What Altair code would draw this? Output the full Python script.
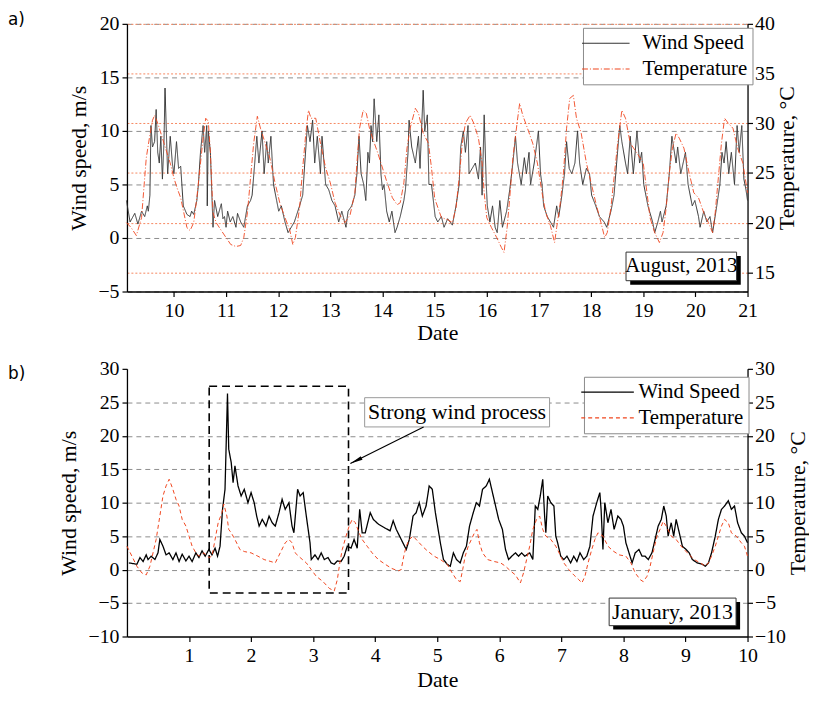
import altair as alt
import pandas as pd

SERIF = "Liberation Serif"
RED = "#f0461e"
SERIES = ["Wind Speed", "Temperature"]
W, H = 626, 270

# ---- Panel a: August 2013 (day, value) ----
a_wind = [(9.09,3.5),(9.16,1.5),(9.25,2.3),(9.31,1.3),(9.38,2.5),(9.44,2.0),(9.49,3.0),(9.51,2.5),(9.54,4.0),(9.56,10.5),
(9.59,8.5),(9.63,9.0),(9.66,12.0),(9.69,8.0),(9.72,7.0),(9.75,9.5),(9.78,5.5),(9.81,9.0),(9.83,14.0),(9.88,6.0),
(9.93,9.5),(9.97,7.0),(10.0,6.0),(10.05,9.0),(10.09,6.5),(10.13,6.7),(10.18,3.0),(10.25,2.2),(10.31,2.0),(10.34,2.5),
(10.38,2.2),(10.44,3.5),(10.47,5.0),(10.51,8.0),(10.56,10.5),(10.59,8.0),(10.63,10.5),(10.64,3.0),(10.66,10.0),(10.70,8.0),
(10.75,1.0),(10.78,3.5),(10.84,2.0),(10.91,3.2),(10.94,1.8),(10.97,2.0),(11.0,1.0),(11.03,2.5),(11.08,1.5),(11.13,2.0),
(11.19,1.0),(11.22,2.3),(11.28,1.5),(11.34,1.0),(11.41,3.0),(11.47,3.5),(11.5,4.0),(11.55,7.0),(11.59,9.5),(11.63,7.0),
(11.69,10.0),(11.73,6.0),(11.78,9.0),(11.81,7.0),(11.86,9.5),(11.91,5.0),(11.97,3.5),(12.01,2.5),(12.06,3.0),(12.13,1.5),
(12.19,0.5),(12.25,1.0),(12.31,1.5),(12.41,3.0),(12.47,4.0),(12.51,7.0),(12.56,10.5),(12.61,9.0),(12.66,11.0),(12.7,7.0),
(12.75,9.5),(12.81,6.0),(12.84,9.5),(12.91,5.0),(12.97,4.5),(13.03,3.5),(13.09,3.0),(13.16,1.5),(13.22,2.5),(13.3,1.0),
(13.34,2.5),(13.41,3.0),(13.47,4.0),(13.51,6.0),(13.55,9.5),(13.59,6.0),(13.64,5.0),(13.68,3.5),(13.72,8.0),(13.75,7.0),
(13.78,10.5),(13.81,9.0),(13.84,13.0),(13.89,9.0),(13.93,11.5),(13.97,6.0),(14.0,4.5),(14.03,5.0),(14.08,2.5),(14.13,1.5),
(14.18,2.5),(14.24,0.5),(14.28,1.0),(14.34,2.0),(14.41,3.5),(14.44,4.5),(14.49,8.0),(14.51,11.0),(14.56,8.5),(14.63,7.0),
(14.69,9.5),(14.72,6.5),(14.78,13.8),(14.81,10.0),(14.86,11.5),(14.89,5.0),(14.94,5.0),(15.01,2.0),(15.06,1.5),(15.13,2.0),
(15.18,1.0),(15.25,1.8),(15.34,1.2),(15.41,3.0),(15.47,5.0),(15.5,8.5),(15.55,10.0),(15.59,8.0),(15.64,10.5),(15.66,6.0),
(15.72,6.5),(15.78,7.0),(15.84,5.5),(15.88,8.5),(15.91,4.0),(15.95,11.5),(15.99,5.0),(16.01,3.0),(16.06,1.5),(16.11,3.0),
(16.16,1.0),(16.2,0.5),(16.25,3.5),(16.3,1.0),(16.38,2.5),(16.44,4.5),(16.5,7.0),(16.55,9.5),(16.59,7.0),(16.66,5.0),
(16.72,7.5),(16.76,6.0),(16.81,8.0),(16.84,5.0),(16.91,7.0),(16.99,10.0),(17.03,6.0),(17.06,5.0),(17.09,3.0),(17.16,2.0),
(17.22,1.5),(17.28,1.0),(17.34,3.0),(17.38,2.0),(17.44,4.0),(17.49,6.0),(17.53,9.0),(17.58,6.5),(17.63,6.0),(17.69,7.0),
(17.74,10.0),(17.78,7.0),(17.84,5.0),(17.91,6.5),(17.97,6.0),(18.01,4.0),(18.09,3.0),(18.16,2.0),(18.25,1.5),(18.3,1.0),
(18.38,2.5),(18.44,4.0),(18.49,7.0),(18.55,10.5),(18.59,9.0),(18.66,7.0),(18.7,6.0),(18.75,9.5),(18.81,6.0),(18.88,10.0),
(18.93,7.0),(18.97,8.0),(19.01,5.0),(19.09,3.0),(19.18,1.5),(19.22,0.5),(19.28,1.5),(19.33,2.5),(19.36,1.5),(19.44,3.0),
(19.5,6.0),(19.55,9.5),(19.63,7.0),(19.66,8.5),(19.72,6.0),(19.81,8.0),(19.86,5.0),(19.94,3.0),(19.99,3.5),(20.06,2.0),
(20.09,1.0),(20.16,2.5),(20.22,1.5),(20.28,2.0),(20.33,0.5),(20.41,3.0),(20.47,5.0),(20.51,8.0),(20.55,7.0),(20.59,9.0),
(20.64,6.0),(20.69,8.0),(20.75,5.0),(20.8,10.5),(20.84,8.0),(20.89,10.5),(20.93,5.5),(20.97,4.5),(21.0,3.5)]

a_temp = [(9.09,20.0),(9.18,19.5),(9.28,18.7),(9.38,20.5),(9.41,22.5),(9.47,26.5),(9.53,28.5),(9.59,30.3),(9.63,30.8),(9.69,30.0),
(9.81,28.0),(9.94,25.8),(10.0,24.5),(10.06,23.5),(10.13,22.5),(10.19,21.0),(10.25,19.5),(10.31,19.2),(10.38,20.0),(10.44,22.5),
(10.5,25.5),(10.56,28.5),(10.61,30.5),(10.66,30.2),(10.7,27.0),(10.75,21.0),(10.81,20.0),(10.91,19.2),(11.0,18.5),(11.09,17.8),
(11.19,17.6),(11.28,17.7),(11.34,18.5),(11.41,21.0),(11.47,24.5),(11.53,28.0),(11.6,30.7),(11.66,29.5),(11.75,28.0),(11.84,26.5),
(11.94,24.0),(12.03,22.0),(12.13,20.5),(12.22,19.3),(12.28,17.8),(12.33,18.5),(12.41,21.5),(12.47,25.5),(12.53,29.0),(12.58,31.3),
(12.63,30.5),(12.72,30.5),(12.81,28.0),(12.91,25.5),(13.0,24.0),(13.09,22.0),(13.19,20.7),(13.28,20.0),(13.38,20.8),(13.47,23.0),
(13.51,26.0),(13.56,29.5),(13.63,31.3),(13.69,31.0),(13.75,29.5),(13.81,28.5),(13.91,27.0),(14.0,25.5),(14.09,24.0),(14.19,22.5),
(14.28,21.8),(14.34,22.0),(14.41,24.0),(14.47,27.5),(14.53,29.5),(14.63,31.5),(14.69,31.0),(14.78,29.0),(14.88,28.0),(14.94,25.5),
(15.0,22.5),(15.03,22.0),(15.13,20.5),(15.25,20.3),(15.34,20.0),(15.41,21.5),(15.47,24.5),(15.53,28.0),(15.59,30.0),(15.68,30.8),
(15.75,30.0),(15.84,28.5),(15.91,26.0),(15.95,23.0),(16.0,20.5),(16.09,19.5),(16.19,18.5),(16.28,17.5),(16.33,17.0),(16.39,19.5),
(16.44,22.5),(16.5,26.5),(16.58,30.0),(16.63,32.0),(16.69,30.8),(16.78,29.5),(16.88,28.0),(16.97,26.0),(17.06,23.0),(17.13,21.0),
(17.22,19.7),(17.3,18.0),(17.34,19.5),(17.41,22.0),(17.47,25.0),(17.53,29.5),(17.59,32.5),(17.66,32.8),(17.72,30.5),(17.81,29.0),
(17.91,26.0),(18.0,24.0),(18.09,22.0),(18.19,20.0),(18.26,18.5),(18.31,19.0),(18.38,21.5),(18.44,24.5),(18.51,28.0),(18.59,31.3),
(18.66,30.5),(18.75,28.0),(18.88,27.0),(19.0,26.0),(19.06,23.5),(19.13,20.5),(19.22,19.0),(19.31,18.0),(19.38,19.0),(19.44,21.5),
(19.5,25.0),(19.56,27.5),(19.63,29.0),(19.69,28.5),(19.78,27.5),(19.88,25.0),(19.97,23.0),(20.06,22.5),(20.16,21.0),(20.25,20.0),
(20.33,19.0),(20.38,21.0),(20.44,24.5),(20.5,28.0),(20.56,30.5),(20.63,30.0),(20.72,29.5),(20.81,27.5),(20.91,26.0),(21.0,23.0)]

# ---- Panel b: January 2013 (day, value) ----
b_wind = [(0.03,1.0),(0.16,0.8),(0.21,1.8),(0.26,1.2),(0.31,2.2),(0.34,1.5),(0.39,2.0),(0.45,1.5),(0.5,2.5),(0.53,4.5),
(0.58,3.5),(0.63,2.2),(0.68,2.5),(0.74,1.5),(0.79,2.5),(0.84,1.2),(0.89,2.3),(0.95,1.3),(1.0,2.0),(1.05,1.2),
(1.11,2.5),(1.16,1.8),(1.21,2.8),(1.26,2.0),(1.32,3.0),(1.37,2.2),(1.42,3.2),(1.46,2.0),(1.5,3.5),(1.54,9.0),
(1.58,12.0),(1.62,26.3),(1.64,18.0),(1.68,16.0),(1.71,13.0),(1.74,15.5),(1.79,12.5),(1.84,11.0),(1.89,12.0),(1.95,10.0),
(2.0,11.5),(2.05,10.0),(2.09,8.0),(2.13,6.5),(2.18,7.5),(2.24,6.5),(2.29,8.0),(2.34,7.0),(2.39,6.5),(2.45,8.5),
(2.5,10.5),(2.55,9.0),(2.61,10.0),(2.66,6.5),(2.69,5.5),(2.75,12.0),(2.79,11.0),(2.84,11.5),(2.89,8.0),(2.95,4.0),
(2.97,1.5),(3.03,2.2),(3.08,1.5),(3.13,2.5),(3.18,1.5),(3.24,1.8),(3.29,1.0),(3.34,0.8),(3.39,1.3),(3.45,1.2),
(3.5,2.0),(3.55,3.5),(3.61,3.2),(3.66,4.5),(3.71,3.2),(3.75,9.0),(3.79,5.5),(3.84,5.5),(3.92,8.5),(3.97,7.5),
(4.05,6.8),(4.16,6.2),(4.24,5.8),(4.29,7.3),(4.34,6.0),(4.42,4.5),(4.5,3.0),(4.55,4.5),(4.61,8.0),(4.66,8.5),
(4.71,10.0),(4.76,8.0),(4.82,9.5),(4.87,12.5),(4.92,12.0),(4.97,8.5),(5.05,4.0),(5.1,1.5),(5.16,0.8),(5.21,0.5),
(5.26,2.5),(5.31,1.5),(5.37,1.0),(5.42,2.5),(5.47,3.5),(5.52,6.5),(5.58,8.5),(5.63,10.0),(5.68,9.5),(5.73,12.0),
(5.79,12.5),(5.84,13.5),(5.89,11.5),(5.94,9.5),(5.99,7.5),(6.05,6.0),(6.1,3.0),(6.15,1.5),(6.2,2.0),(6.26,2.5),
(6.31,2.0),(6.36,2.5),(6.41,2.0),(6.49,2.5),(6.54,1.5),(6.58,9.5),(6.62,9.0),(6.66,11.0),(6.7,13.5),(6.73,8.0),
(6.75,5.5),(6.78,11.0),(6.83,10.0),(6.88,9.5),(6.91,5.0),(6.94,4.0),(6.99,2.0),(7.04,1.5),(7.09,2.0),(7.15,1.0),
(7.2,2.0),(7.25,1.2),(7.3,2.5),(7.36,1.5),(7.41,2.0),(7.46,3.5),(7.51,8.0),(7.57,10.0),(7.62,11.5),(7.64,9.0),
(7.67,3.0),(7.7,10.0),(7.75,7.0),(7.8,9.0),(7.85,6.0),(7.91,8.0),(7.96,7.5),(8.0,6.5),(8.04,4.0),(8.09,2.5),
(8.14,1.0),(8.19,2.5),(8.25,3.0),(8.3,2.0),(8.35,2.0),(8.4,1.5),(8.46,2.5),(8.51,4.5),(8.56,6.5),(8.61,7.5),
(8.65,9.5),(8.69,8.0),(8.72,5.0),(8.77,7.0),(8.81,5.0),(8.85,7.5),(8.9,5.5),(8.95,3.5),(9.01,3.0),(9.06,2.5),
(9.11,1.5),(9.19,1.0),(9.27,0.8),(9.32,0.5),(9.37,1.0),(9.42,2.5),(9.48,5.0),(9.53,7.5),(9.58,9.0),(9.63,9.5),
(9.69,10.3),(9.74,9.0),(9.79,9.5),(9.84,7.0),(9.9,5.5),(9.95,5.0),(10.0,4.0)]

b_temp = [(0.0,3.5),(0.08,2.0),(0.16,0.5),(0.24,-0.5),(0.31,-0.8),(0.37,0.5),(0.42,2.5),(0.47,4.5),(0.53,8.0),(0.58,11.0),
(0.63,12.5),(0.68,13.5),(0.74,12.0),(0.79,10.5),(0.84,9.5),(0.89,7.5),(0.95,6.5),(1.0,5.0),(1.05,3.5),(1.11,2.5),
(1.16,2.0),(1.24,2.5),(1.32,1.8),(1.37,2.0),(1.42,4.5),(1.47,7.0),(1.53,8.5),(1.56,9.8),(1.61,8.0),(1.64,6.0),
(1.68,5.5),(1.74,4.5),(1.82,3.0),(1.89,2.7),(2.0,2.5),(2.11,2.0),(2.21,1.5),(2.32,1.2),(2.39,1.0),(2.47,2.5),
(2.55,4.0),(2.61,4.5),(2.66,4.0),(2.71,2.5),(2.79,1.8),(2.89,1.0),(2.97,0.0),(3.05,-1.0),(3.16,-1.8),(3.26,-2.8),
(3.34,-3.2),(3.39,-1.5),(3.43,1.0),(3.47,3.0),(3.53,5.0),(3.58,6.5),(3.63,7.5),(3.68,7.0),(3.74,5.5),(3.79,4.5),
(3.87,3.5),(3.95,2.5),(4.05,1.5),(4.16,0.8),(4.26,0.2),(4.37,-0.2),(4.42,0.0),(4.46,2.0),(4.5,3.5),(4.55,4.5),
(4.61,5.0),(4.68,4.3),(4.76,3.5),(4.84,2.8),(4.95,2.0),(5.05,1.5),(5.16,0.8),(5.24,-0.5),(5.31,-1.5),(5.37,-1.8),
(5.41,0.0),(5.45,2.0),(5.5,3.5),(5.55,4.5),(5.6,5.5),(5.64,6.0),(5.68,4.0),(5.73,2.5),(5.81,1.5),(5.92,1.2),
(6.02,1.0),(6.1,0.5),(6.18,-0.2),(6.26,-0.8),(6.34,-2.0),(6.39,-0.5),(6.44,1.5),(6.49,3.5),(6.54,6.0),(6.6,7.5),
(6.65,8.0),(6.7,6.0),(6.75,5.0),(6.83,4.5),(6.91,3.5),(6.99,2.0),(7.04,1.0),(7.12,0.0),(7.2,-0.8),(7.28,-1.5),
(7.33,-2.0),(7.38,-1.0),(7.43,1.0),(7.49,3.0),(7.54,4.5),(7.59,5.5),(7.67,5.0),(7.75,3.5),(7.83,2.8),(7.93,2.2),
(8.04,2.0),(8.12,1.0),(8.19,-0.5),(8.27,-1.5),(8.32,-1.8),(8.38,-1.0),(8.43,0.5),(8.49,3.0),(8.54,5.0),(8.59,6.0),
(8.64,7.2),(8.69,6.5),(8.77,5.0),(8.85,4.5),(8.93,3.5),(9.03,2.5),(9.14,1.5),(9.24,1.0),(9.32,0.5),(9.37,1.0),
(9.42,2.0),(9.48,3.5),(9.53,5.0),(9.58,6.5),(9.63,7.5),(9.69,7.0),(9.74,5.5),(9.82,5.0),(9.9,4.0),(9.95,3.5),(10.0,2.0)]

# tick values
a_days = list(range(10, 22))
a_wind_ticks = [-5, 0, 5, 10, 15, 20]
a_temp_ticks = [15, 20, 25, 30, 35, 40]
b_days = list(range(1, 11))
b_ticks = [-10, -5, 0, 5, 10, 15, 20, 25, 30]

# annotation boxes (data coordinates)
aug_box = pd.DataFrame({"x0": [18.67], "x1": [20.79], "y0": [-1.32], "y1": [-3.99],
                        "sx0": [18.75], "sx1": [20.87], "sy0": [-1.69], "sy1": [-4.36],
                        "tx": [19.73], "ty": [-2.65], "label": ["August, 2013"]})
jan_box = pd.DataFrame({"x0": [7.77], "x1": [9.815], "y0": [-4.26], "y1": [-8.38],
                        "sx0": [7.835], "sx1": [9.88], "sy0": [-4.85], "sy1": [-8.97],
                        "tx": [8.79], "ty": [-6.3], "label": ["January, 2013"]})
strong_rect = pd.DataFrame({"x0": [1.325], "x1": [3.57], "y0": [27.4], "y1": [-3.5]})
strong_label = pd.DataFrame({"x0": [3.83], "x1": [6.81], "y0": [25.69], "y1": [21.32],
                             "tx": [5.32], "ty": [23.5], "label": ["Strong wind process"]})
arrow = pd.DataFrame({"x0": [4.78], "y0": [21.32], "x1": [3.6], "y1": [15.85]})


def frame(pairs, name):
    return pd.DataFrame({"day": [p[0] for p in pairs], "value": [p[1] for p in pairs], "series": name})


def legend(lx, ly, size, offset):
    return alt.Legend(title=None, orient="none", legendX=lx, legendY=ly,
                      symbolType="M-5.5,0H10.5", symbolSize=size, symbolStrokeWidth=1.1,
                      labelOffset=offset, padding=5, rowPadding=4,
                      strokeColor="#8a8a8a", fillColor="white",
                      labelFont=SERIF, labelFontSize=21, labelColor="black", labelLimit=0)


def box_layers(df, xs, ys, xax, yax, fs):
    shadow = alt.Chart(df).mark_rect(color="black").encode(
        x=alt.X("sx0:Q", scale=xs, axis=xax), x2="sx1:Q",
        y=alt.Y("sy0:Q", scale=ys, axis=yax), y2="sy1:Q")
    box = alt.Chart(df).mark_rect(fill="white", stroke="#333", strokeWidth=1).encode(
        x=alt.X("x0:Q", scale=xs, axis=xax), x2="x1:Q",
        y=alt.Y("y0:Q", scale=ys, axis=yax), y2="y1:Q")
    txt = alt.Chart(df).mark_text(font=SERIF, fontSize=fs, color="black").encode(
        x=alt.X("tx:Q", scale=xs, axis=xax), y=alt.Y("ty:Q", scale=ys, axis=yax), text="label:N")
    return [shadow, box, txt]


def tag(df, label, yoff):
    return alt.Chart(df).mark_text(text=label, font="DejaVu Sans", fontSize=17, align="left",
                                   baseline="middle", color="black").encode(
        x=alt.value(-120), y=alt.value(yoff))


# ---------------- panel a ----------------
xa = alt.Scale(domain=[9.1, 21], nice=False, zero=False)
ya = alt.Scale(domain=[-5, 20], nice=False, zero=False)
ta = alt.Scale(domain=[13.07, 40], nice=False, zero=False)
xax_a = alt.Axis(values=a_days, title="Date", grid=False, labelFlush=False, labelPadding=4, titlePadding=2)
yax_a = alt.Axis(values=a_wind_ticks, title="Wind speed, m/s", grid=True, labelFlush=False,
                 gridColor="#8c8c8c", gridDash=[5, 4], titlePadding=8)
tax_a = alt.Axis(orient="right", values=a_temp_ticks, title="Temperature, °C", titleAngle=270,
                 titleBaseline="top", grid=True, gridColor="#f6875f", gridDash=[2, 2], labelFlush=False,
                 titlePadding=2, labelPadding=2)
leg_a = legend(W - 166, 4, 36, 34)
col_a = alt.Color("series:N", scale=alt.Scale(domain=SERIES, range=["#333333", RED]), legend=leg_a)
dash_a = alt.StrokeDash("series:N", scale=alt.Scale(domain=SERIES, range=[[1, 0], [6, 2, 1, 2]]), legend=leg_a)

wind_a = alt.Chart(frame(a_wind, SERIES[0])).mark_line(strokeWidth=1.0).encode(
    x=alt.X("day:Q", scale=xa, axis=xax_a),
    y=alt.Y("value:Q", scale=ya, axis=yax_a),
    color=col_a, strokeDash=dash_a)
temp_a = alt.Chart(frame(a_temp, SERIES[1])).mark_line(strokeWidth=0.9).encode(
    x=alt.X("day:Q", scale=xa, axis=xax_a),
    y=alt.Y("value:Q", scale=ta, axis=tax_a),
    color=col_a, strokeDash=dash_a)
left_a = alt.layer(wind_a, *box_layers(aug_box, xa, ya, xax_a, yax_a, 21), tag(aug_box, "a)", -4))
panel_a = alt.layer(left_a, temp_a).resolve_scale(y="independent").properties(width=W, height=H)

# ---------------- panel b ----------------
xb = alt.Scale(domain=[0, 10], nice=False, zero=False)
yb = alt.Scale(domain=[-10, 30], nice=False, zero=False)
xax_b = alt.Axis(values=b_days, title="Date", grid=False, labelFlush=False, labelPadding=4, titlePadding=4)
yax_b = alt.Axis(values=b_ticks, title="Wind speed, m/s", grid=True, gridColor="#8c8c8c",
                 gridDash=[5, 4], titlePadding=8, labelFlush=False,
                 gridOpacity={"condition": {"test": "datum.value == 30 || datum.value == -10", "value": 0}, "value": 1})
tax_b = alt.Axis(orient="right", values=b_ticks, title="Temperature, °C", titleAngle=270,
                 titleBaseline="top", grid=False, labelFlush=False, titlePadding=2, labelPadding=2)
leg_b = legend(W - 165, 8, 44, 29)
col_b = alt.Color("series:N", scale=alt.Scale(domain=SERIES, range=["black", RED]), legend=leg_b)
dash_b = alt.StrokeDash("series:N", scale=alt.Scale(domain=SERIES, range=[[1, 0], [4, 3]]), legend=leg_b)

wind_b = alt.Chart(frame(b_wind, SERIES[0])).mark_line(strokeWidth=1.3).encode(
    x=alt.X("day:Q", scale=xb, axis=xax_b),
    y=alt.Y("value:Q", scale=yb, axis=yax_b),
    color=col_b, strokeDash=dash_b)
temp_b = alt.Chart(frame(b_temp, SERIES[1])).mark_line(strokeWidth=1.0).encode(
    x=alt.X("day:Q", scale=xb, axis=xax_b),
    y=alt.Y("value:Q", scale=yb, axis=tax_b),
    color=col_b, strokeDash=dash_b)

dashed = alt.Chart(strong_rect).mark_rect(fillOpacity=0, stroke="black", strokeWidth=1.6,
                                          strokeDash=[8, 5]).encode(
    x=alt.X("x0:Q", scale=xb, axis=xax_b), x2="x1:Q",
    y=alt.Y("y0:Q", scale=yb, axis=yax_b), y2="y1:Q")
lab_box = alt.Chart(strong_label).mark_rect(fill="white", stroke="#999", strokeWidth=1).encode(
    x=alt.X("x0:Q", scale=xb, axis=xax_b), x2="x1:Q",
    y=alt.Y("y0:Q", scale=yb, axis=yax_b), y2="y1:Q")
lab_txt = alt.Chart(strong_label).mark_text(font=SERIF, fontSize=22, color="black").encode(
    x=alt.X("tx:Q", scale=xb, axis=xax_b), y=alt.Y("ty:Q", scale=yb, axis=yax_b), text="label:N")
arrow_line = alt.Chart(arrow).mark_rule(color="black", strokeWidth=1.2).encode(
    x=alt.X("x0:Q", scale=xb, axis=xax_b), x2="x1:Q",
    y=alt.Y("y0:Q", scale=yb, axis=yax_b), y2="y1:Q")
arrow_head = alt.Chart(arrow).mark_point(shape="M0,0L0.32,2L-0.32,2Z", filled=True, size=160, angle=244,
                                         color="black", opacity=1).encode(
    x=alt.X("x1:Q", scale=xb, axis=xax_b), y=alt.Y("y1:Q", scale=yb, axis=yax_b))

left_b = alt.layer(wind_b, dashed, lab_box, lab_txt, arrow_line, arrow_head,
                   *box_layers(jan_box, xb, yb, xax_b, yax_b, 22), tag(jan_box, "b)", 5))
panel_b = alt.layer(left_b, temp_b).resolve_scale(y="independent").properties(width=W, height=H)

chart = alt.vconcat(panel_a, panel_b, spacing=16).resolve_scale(
    x="independent", y="independent", color="independent", strokeDash="independent"
).properties(padding={"left": 0, "top": 0, "right": 0, "bottom": 0}).configure_axis(
    labelFont=SERIF, labelFontSize=20, titleFont=SERIF, titleFontSize=22, titleFontWeight="normal",
    labelColor="black", titleColor="black", domainColor="black", tickColor="black",
    domainWidth=1.3, tickWidth=1.2, tickSize=5, labelPadding=3
).configure_view(stroke=None)

chart.save("out.html", embed_options={"renderer": "svg", "actions": False})
